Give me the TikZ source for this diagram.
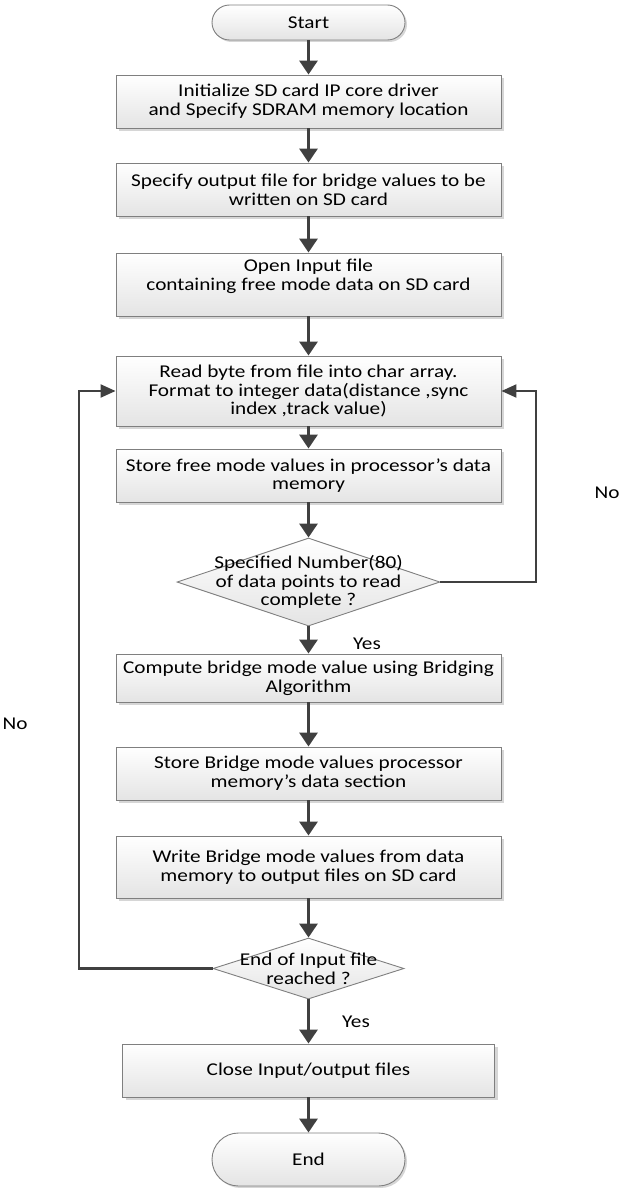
\documentclass[tikz,border=0pt]{standalone}
\usepackage{fontspec}
\setmainfont[FakeStretch=1.18]{Carlito}
\usetikzlibrary{arrows.meta,shapes.geometric,shadows}
\definecolor{linec}{HTML}{404040}
\definecolor{boxline}{HTML}{7F7F7F}
\definecolor{fillb}{HTML}{E4E4E4}
\definecolor{shadowc}{HTML}{D6D6D6}
\newcommand\chartfont{\fontsize{18}{18.8}\selectfont}
\tikzset{
  boxbase/.style={draw=boxline, line width=0.9pt, top color=white, bottom color=fillb,
    inner sep=0pt, align=center, font=\chartfont, text=black},
  proc/.style={boxbase, rectangle, minimum width=385pt, minimum height=#1,
    drop shadow={shadow xshift=3pt, shadow yshift=-3pt, fill=shadowc, opacity=1}},
  term/.style={boxbase, rectangle, minimum width=193pt, minimum height=#1, rounded corners=#1/2,
    drop shadow={shadow xshift=2pt, shadow yshift=-2pt, fill=shadowc, opacity=1}},
  decide/.style={boxbase, diamond},
  lbl/.style={font=\chartfont, align=center, inner sep=0pt},
  flow/.style={draw=linec, line width=3pt, -{Triangle[length=14pt,width=18pt]}},
  back/.style={draw=linec, line width=2.2pt, -{Triangle[length=15pt,width=13pt]}},
}
\begin{document}
\begin{tikzpicture}[x=1pt,y=-1pt]
\useasboundingbox (0,0) rectangle (621,1188);

% terminals and process steps
\node[term=35pt] (start) at (308.5,22.5) {Start};
\node[proc=53pt] (init) at (308.5,101.5) {Initialize SD card IP core driver\\and Specify SDRAM memory location};
\node[proc=53pt] (outf) at (308.5,189.5) {Specify output file for bridge values to be\\written on SD card};
\node[proc=63pt] (open) at (308.5,284.5) {Open Input file\\containing free mode data on SD card\\\mbox{}};
\node[proc=70pt] (read) at (308.5,391) {Read byte from file into char array.\\Format to integer data(distance ,sync\\index ,track value)};
\node[proc=53pt] (storef) at (308.5,475.5) {Store free mode values in processor’s data\\memory};

% first decision
\node[decide, minimum width=263pt, minimum height=88pt] (cnt) at (308.5,582) {};
\node[lbl] (cntt) at (cnt.center) {Specified Number(80)\\of data points to read\\complete ?};

\node[proc=48pt] (comp) at (308.5,678) {Compute bridge mode value using Bridging\\Algorithm};
\node[proc=53pt] (storeb) at (308.5,773.5) {Store Bridge mode values processor\\memory’s data section};
\node[proc=62pt] (write) at (308.5,867) {Write Bridge mode values from data\\memory to output files on SD card};

% second decision
\node[decide, minimum width=191pt, minimum height=61pt] (eof) at (308.5,968.5) {};
\node[lbl] (eoft) at (eof.center) {End of Input file\\reached ?};

\node[proc=53pt, minimum width=372pt] (close) at (308.5,1070.5) {Close Input/output files};
\node[term=53pt] (end) at (308.5,1159.5) {End};

% main flow
\draw[flow] (start.south) -- (init.north);
\draw[flow] (init.south) -- (outf.north);
\draw[flow] (outf.south) -- (open.north);
\draw[flow] (open.south) -- (read.north);
\draw[flow] (read.south) -- (storef.north);
\draw[flow] (storef.south) -- (cnt.north);
\draw[flow] (cnt.south) -- (comp.north);
\draw[flow] (comp.south) -- (storeb.north);
\draw[flow] (storeb.south) -- (write.north);
\draw[flow] (write.south) -- (eof.north);
\draw[flow] (eof.south) -- (close.north);
\draw[flow] (close.south) -- (end.north);

% loops back to the read step
\coordinate (rloop) at (536,582);
\coordinate (lloop) at (79,968.5);
\draw[back] (cnt.east) -- (rloop) |- (read.east);
\draw[back] (eof.west) -- (lloop) |- (read.west);

% branch labels
\node[lbl] (yes1) at (367,644) {Yes};
\node[lbl] (yes2) at (356,1022) {Yes};
\node[lbl] (no1) at (607,493) {No};
\node[lbl] (no2) at (15,724) {No};
\end{tikzpicture}
\end{document}
